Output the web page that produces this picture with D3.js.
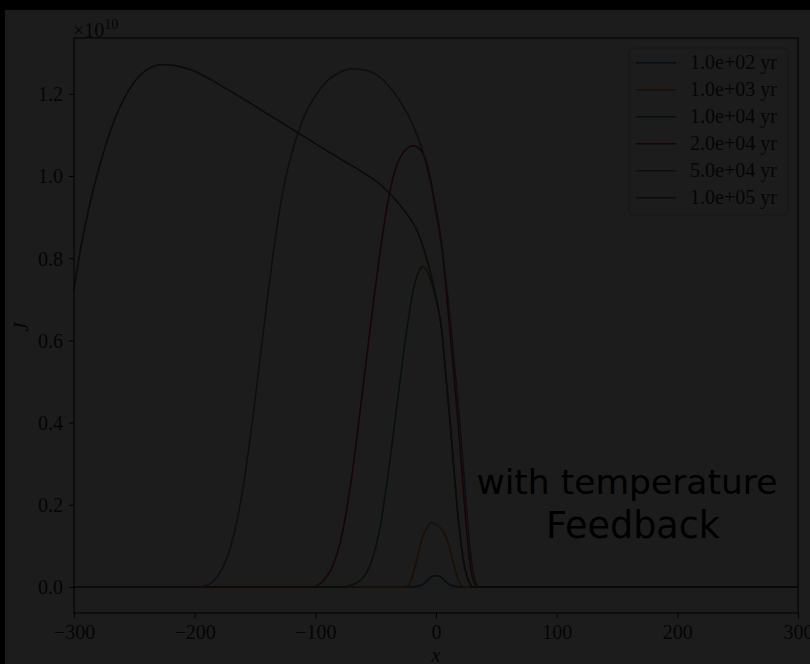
<!DOCTYPE html>
<html>
<head>
<meta charset="utf-8">
<script src="https://cdn.jsdelivr.net/npm/d3@7"></script>
<style>
  html, body { margin: 0; padding: 0; background: #000; }
  svg { display: block; }
  .tick text, .lbl { font-family: "Liberation Serif", "DejaVu Serif", serif; fill: #050505; }
</style>
</head>
<body>
<div class="chart"></div>
<script>
// J values are in units of 1e10
var labels = ["1.0e+02 yr", "1.0e+03 yr", "1.0e+04 yr", "2.0e+04 yr", "5.0e+04 yr", "1.0e+05 yr"];
var colors = ["#030d14", "#1c0e02", "#051205", "#180404", "#100b15", "#0f0908"];

var x100 = [-300, -20, -14, -10, -6, -3, 0, 3, 6, 10, 14, 20, 300];
var j100 = [0, 0, 0.002, 0.008, 0.019, 0.026, 0.027, 0.026, 0.019, 0.008, 0.002, 0, 0];

var x1k = [-300, -26, -23, -17.4, -11.9, -7.7, -3.6, 0.6, 6, 10.2, 14.4, 18.5, 22.6, 300];
var j1k = [0, 0, 0.003, 0.049, 0.114, 0.143, 0.157, 0.151, 0.135, 0.106, 0.058, 0.017, 0, 0];

var x10k = [-300, -78, -72, -67, -62, -57, -52, -47, -42, -37, -32, -27, -23, -19, -15, -11.5, -8, -5, 0, 4.7, 8, 11.5, 15, 19, 23, 27, 31, 300];
var j10k = [0, 0, 0.003, 0.008, 0.018, 0.038, 0.075, 0.135, 0.225, 0.335, 0.45, 0.565, 0.65, 0.72, 0.763, 0.78, 0.772, 0.752, 0.70, 0.626, 0.52, 0.407, 0.28, 0.15, 0.06, 0.015, 0, 0];

var x20k = [-300, -102, -97, -92, -87, -82, -77, -72, -67, -62, -57, -52, -47, -42, -37, -32, -27, -22, -18.5, -15, -11.9, -8, -5, 0.6, 4.7, 8, 11, 14.5, 18, 21.5, 25, 28, 31, 34.5, 300];
var j20k = [0, 0, 0.006, 0.02, 0.042, 0.08, 0.14, 0.225, 0.33, 0.45, 0.57, 0.69, 0.80, 0.90, 0.98, 1.03, 1.058, 1.071, 1.074, 1.07, 1.06, 1.035, 0.999, 0.91, 0.835, 0.735, 0.64, 0.525, 0.407, 0.28, 0.15, 0.06, 0.015, 0, 0];

var x50k = [-300, -195, -190, -185, -180, -175, -170, -165, -160, -155, -150, -145, -140, -135, -130, -125, -120, -115, -110, -100, -90, -80, -70, -60, -50, -40, -30, -20, -10, -5, 0, 6, 12.5, 16, 19.5, 23, 26.5, 29.5, 32.5, 36, 300];
var j50k = [0, 0, 0.004, 0.013, 0.03, 0.058, 0.10, 0.16, 0.24, 0.34, 0.455, 0.575, 0.695, 0.81, 0.91, 0.99, 1.05, 1.10, 1.14, 1.195, 1.232, 1.252, 1.261, 1.259, 1.248, 1.222, 1.183, 1.13, 1.05, 0.99, 0.91, 0.80, 0.63, 0.52, 0.407, 0.28, 0.15, 0.06, 0.015, 0, 0];

var x100k = [-300, -295, -290, -285, -280, -275, -270, -265, -260, -255, -250, -245, -240, -235, -228, -220, -212, -200, -190, -173.5, -146, -121, -100, -80, -60, -46, -30, -20, -15, -10, -5, 0, 4.7, 8, 11.5, 15, 19, 23, 27, 31, 300];
var j100k = [0.723, 0.815, 0.89, 0.955, 1.012, 1.063, 1.108, 1.147, 1.18, 1.207, 1.229, 1.246, 1.258, 1.266, 1.271, 1.270, 1.266, 1.255, 1.240, 1.212, 1.163, 1.117, 1.079, 1.043, 1.008, 0.979, 0.93, 0.89, 0.863, 0.822, 0.77, 0.705, 0.626, 0.52, 0.407, 0.28, 0.15, 0.06, 0.015, 0, 0];

var seriesX = [x100, x1k, x10k, x20k, x50k, x100k];
var seriesJ = [j100, j1k, j10k, j20k, j50k, j100k];

var xTicks = [-300, -200, -100, 0, 100, 200, 300];
var yTicks = [0, 0.2, 0.4, 0.6, 0.8, 1.0, 1.2];

function drawChart() {
  var W = 810, H = 664;
  var plot = { left: 74, right: 798, top: 38, bottom: 613 };

  var svg = d3.select(".chart").append("svg")
    .attr("width", W)
    .attr("height", H);

  // figure background
  svg.append("rect")
    .attr("x", 5).attr("y", 10)
    .attr("width", W - 5).attr("height", H - 10)
    .attr("fill", "#1c1c1c");

  var xScale = d3.scaleLinear().domain([-300, 300]).range([plot.left, plot.right]);
  var yScale = d3.scaleLinear().domain([-0.0635, 1.336]).range([plot.bottom, plot.top]);

  var minus = function(v) { return d3.format(".0f")(v).replace("-", "\u2212"); };

  var xAxis = svg.append("g")
    .attr("transform", "translate(0," + plot.bottom + ")")
    .call(d3.axisBottom(xScale).tickValues(xTicks).tickSize(5).tickPadding(7).tickFormat(minus));
  var yAxis = svg.append("g")
    .attr("transform", "translate(" + plot.left + ",0)")
    .call(d3.axisLeft(yScale).tickValues(yTicks).tickSize(5).tickPadding(6).tickFormat(d3.format(".1f")));

  [xAxis, yAxis].forEach(function(g) {
    g.select(".domain").remove();
    g.selectAll(".tick line").attr("stroke", "#000").attr("stroke-width", 1);
    g.selectAll(".tick text").attr("font-size", 20);
  });
  yAxis.selectAll(".tick text").attr("dy", "0.34em");

  // curves
  var line = d3.line()
    .x(function(d) { return xScale(d[0]); })
    .y(function(d) { return yScale(d[1]); })
    .curve(d3.curveMonotoneX);

  seriesX.forEach(function(xs, i) {
    var pts = xs.map(function(v, k) { return [v, seriesJ[i][k]]; });
    svg.append("path")
      .datum(pts)
      .attr("d", line)
      .attr("fill", "none")
      .attr("stroke", colors[i])
      .attr("stroke-width", 1.5);
  });

  // frame
  svg.append("rect")
    .attr("x", plot.left).attr("y", plot.top)
    .attr("width", plot.right - plot.left).attr("height", plot.bottom - plot.top)
    .attr("fill", "none")
    .attr("stroke", "#000")
    .attr("stroke-width", 1);

  // axis labels
  svg.append("text")
    .attr("class", "lbl")
    .attr("x", xScale(0)).attr("y", 662)
    .attr("text-anchor", "middle")
    .attr("font-size", 21)
    .attr("font-style", "italic")
    .text("x");

  svg.append("text")
    .attr("class", "lbl")
    .attr("transform", "translate(28,327) rotate(-90)")
    .attr("text-anchor", "middle")
    .attr("font-size", 21)
    .attr("font-style", "italic")
    .text("J");

  var mult = svg.append("text")
    .attr("class", "lbl")
    .attr("x", plot.left - 1).attr("y", 37)
    .attr("font-size", 20);
  mult.append("tspan").text("\u00d710");
  mult.append("tspan").attr("dy", -8).attr("font-size", 14).text("10");

  // legend
  var legend = svg.append("g");
  legend.append("rect")
    .attr("x", 629).attr("y", 48)
    .attr("width", 159).attr("height", 167)
    .attr("rx", 4)
    .attr("fill", "#1c1c1c")
    .attr("stroke", "#161616");

  var items = legend.selectAll(".item")
    .data(labels)
    .enter().append("g")
    .attr("transform", function(d, i) { return "translate(0," + (62.7 + i * 27) + ")"; });
  items.append("line")
    .attr("x1", 636).attr("x2", 676)
    .attr("stroke", function(d, i) { return colors[i]; })
    .attr("stroke-width", 1.5);
  items.append("text")
    .attr("class", "lbl")
    .attr("x", 690).attr("y", 6.5)
    .attr("font-size", 20)
    .text(function(d) { return d; });

  // annotation
  svg.append("text")
    .attr("x", 627).attr("y", 494)
    .attr("text-anchor", "middle")
    .attr("font-family", "DejaVu Sans")
    .attr("font-size", 34.5)
    .attr("fill", "#000")
    .text("with temperature");
  svg.append("text")
    .attr("x", 633).attr("y", 538)
    .attr("text-anchor", "middle")
    .attr("font-family", "DejaVu Sans")
    .attr("font-size", 36.5)
    .attr("fill", "#000")
    .text("Feedback");
}

drawChart();
</script>
</body>
</html>
